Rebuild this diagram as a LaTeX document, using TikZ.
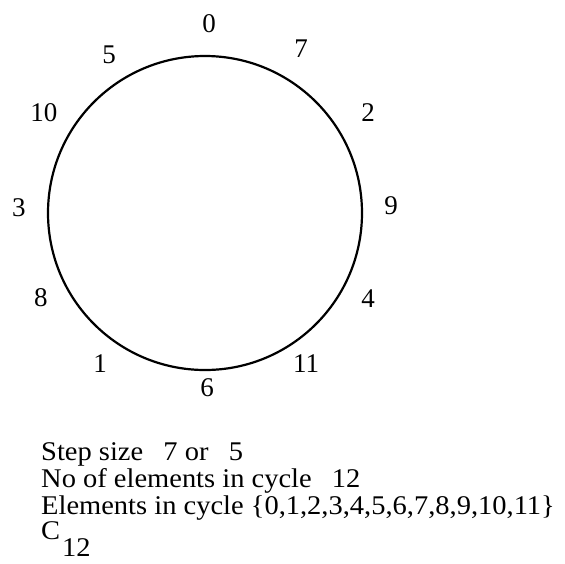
\documentclass[tikz,border=0pt]{standalone}
\usepackage{fontspec}
\setmainfont{Liberation Serif}
\newfontfamily\widefont[FakeStretch=1.055]{Liberation Serif}
\begin{document}
\begin{tikzpicture}[x=1pt,y=-1pt,
  lab/.style={font=\fontsize{27}{30}\selectfont, inner sep=0pt},
  txt/.style={font=\widefont\fontsize{27}{30}\selectfont, inner sep=0pt, anchor=base west}]
\useasboundingbox (0,0) rectangle (565,563);
\node[draw, circle, minimum size=314pt, line width=2.2pt, inner sep=0pt] (cyc) at (205,213) {};
\node[lab] (l0) at (209,24) {0};
\node[lab] (l7) at (301,49) {7};
\node[lab] (l2) at (368,113) {2};
\node[lab] (l9) at (391,206) {9};
\node[lab] (l4) at (368,299) {4};
\node[lab] (l11) at (306,364) {11};
\node[lab] (l6) at (207,388) {6};
\node[lab] (l1) at (100,364) {1};
\node[lab] (l8) at (41,298) {8};
\node[lab] (l3) at (19,208) {3};
\node[lab] (l10) at (44,113) {10};
\node[lab] (l5) at (109,55) {5};
\node[txt] (t1) at (41,460) {Step size\hspace{0.75em}7 or\hspace{0.75em}5};
\node[txt] (t2) at (41,487) {No of elements in cycle\hspace{0.75em}12};
\node[txt] (t3) at (41,514) {Elements in cycle \{0,1,2,3,4,5,6,7,8,9,10,11\}};
\node[txt] (t4) at (41,539) {C\kern2pt\lower17pt\hbox{12}};
\end{tikzpicture}
\end{document}
